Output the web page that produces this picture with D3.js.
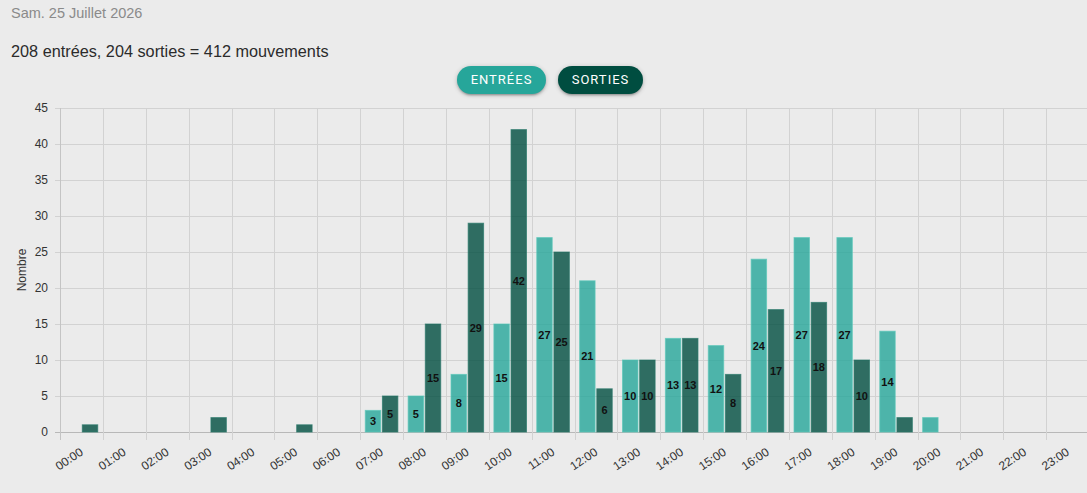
<!DOCTYPE html>
<html>
<head>
<meta charset="utf-8">
<script src="https://cdn.jsdelivr.net/npm/d3@7"></script>
<style>
  html, body { margin: 0; padding: 0; background: #ebebeb; }
  body { width: 1087px; height: 493px; position: relative; overflow: hidden; font-family: "Liberation Sans", Arial, sans-serif; }
  .date { position: absolute; left: 11px; top: 5px; font-size: 14.5px; color: #8a8a8a; }
  .total { position: absolute; left: 11px; top: 42px; font-size: 16.25px; color: #2b2b2b; }
  .btn { position: absolute; top: 66px; height: 28px; line-height: 28px; border-radius: 14px; color: #fff;
         font-family: Roboto, sans-serif; font-size: 13px; letter-spacing: 1px; text-align: center;
         box-shadow: 0 2px 2px rgba(0,0,0,0.14), 0 3px 1px -2px rgba(0,0,0,0.12), 0 1px 5px rgba(0,0,0,0.2); }
  svg { position: absolute; left: 0; top: 0; }
</style>
</head>
<body>
<div class="date">Sam. 25 Juillet 2026</div>
<div class="total">208 entrées, 204 sorties = 412 mouvements</div>
<div class="btn" style="left:457px;width:89px;background:#26a69a;">ENTRÉES</div>
<div class="btn" style="left:558px;width:85px;background:#004d40;">SORTIES</div>
<svg id="chart" width="1087" height="493"></svg>
<script>
const hours = ['00:00','01:00','02:00','03:00','04:00','05:00','06:00','07:00','08:00','09:00','10:00','11:00',
               '12:00','13:00','14:00','15:00','16:00','17:00','18:00','19:00','20:00','21:00','22:00','23:00'];
const entrees = [0,0,0,0,0,0,0,3,5,8,15,27,21,10,13,12,24,27,27,14,2,0,0,0];
const sorties = [1,0,0,2,0,1,0,5,15,29,42,25,6,10,13,8,17,18,10,2,0,0,0,0];
const yTicks = [0,5,10,15,20,25,30,35,40,45];

const series = [
  { key: 'entrees', values: entrees, fill: 'rgba(38,166,154,0.8)', stroke: 'rgba(90,200,185,0.7)' },
  { key: 'sorties', values: sorties, fill: 'rgba(0,77,64,0.8)', stroke: 'rgba(40,120,105,0.7)' }
];

const svg = d3.select('#chart');
const margin = { left: 60, top: 108, bottom: 432 };

const x = d3.scaleBand().domain(hours).range([margin.left, 1089]).padding(0);
const bw = x.bandwidth();
const xs = d3.scaleBand().domain(series.map(s => s.key))
  .range([0.1 * bw, 0.9 * bw]).paddingInner(0.1).paddingOuter(0.05);
const y = d3.scaleLinear().domain([0, 45]).range([margin.bottom, margin.top]);

// horizontal grid
svg.append('g').selectAll('line').data(yTicks).enter().append('line')
  .attr('x1', margin.left - 5).attr('x2', 1087)
  .attr('y1', d => y(d) + 0.5).attr('y2', d => y(d) + 0.5)
  .attr('stroke', d => d === 0 ? '#b8b8b8' : '#d2d2d2').attr('stroke-width', 1);

// vertical grid
svg.append('g').selectAll('line').data(hours).enter().append('line')
  .attr('x1', d => Math.round(x(d)) + 0.5).attr('x2', d => Math.round(x(d)) + 0.5)
  .attr('y1', margin.top).attr('y2', margin.bottom + 8)
  .attr('stroke', (d, i) => i === 0 ? '#c4c4c4' : '#d2d2d2').attr('stroke-width', 1);

// y labels
svg.append('g').selectAll('text').data(yTicks).enter().append('text')
  .attr('x', 48).attr('y', d => y(d) + 4)
  .attr('text-anchor', 'end').attr('font-size', 12).attr('fill', '#333')
  .attr('font-family', 'Liberation Sans, Arial, sans-serif')
  .text(d => d);

svg.append('text')
  .attr('transform', `translate(26,${(margin.top + margin.bottom) / 2}) rotate(-90)`)
  .attr('text-anchor', 'middle').attr('font-size', 12).attr('fill', '#333')
  .attr('font-family', 'Liberation Sans, Arial, sans-serif')
  .text('Nombre');

// x labels
svg.append('g').selectAll('text').data(hours).enter().append('text')
  .attr('transform', d => `translate(${x(d) + bw / 2 + 2.5},${margin.bottom + 22}) rotate(-34)`)
  .attr('text-anchor', 'end').attr('font-size', 12).attr('fill', '#333')
  .attr('font-family', 'Liberation Sans, Arial, sans-serif')
  .text(d => d);

// bars
series.forEach(s => {
  const g = svg.append('g');
  g.selectAll('rect').data(hours.map((h, i) => ({ h, v: s.values[i] })).filter(d => d.v > 0))
    .enter().append('rect')
    .attr('x', d => x(d.h) + xs(s.key))
    .attr('y', d => y(d.v))
    .attr('width', xs.bandwidth())
    .attr('height', d => y(0) - y(d.v))
    .attr('fill', s.fill)
    .attr('stroke', s.stroke).attr('stroke-width', 1);
  g.selectAll('text').data(hours.map((h, i) => ({ h, v: s.values[i] })).filter(d => d.v >= 3))
    .enter().append('text')
    .attr('x', d => x(d.h) + xs(s.key) + xs.bandwidth() / 2)
    .attr('y', d => (y(d.v) + y(0)) / 2 + 4)
    .attr('text-anchor', 'middle').attr('font-size', 11).attr('font-weight', 'bold')
    .attr('fill', '#111').attr('font-family', 'Liberation Sans, Arial, sans-serif')
    .text(d => d.v);
});
</script>
</body>
</html>
